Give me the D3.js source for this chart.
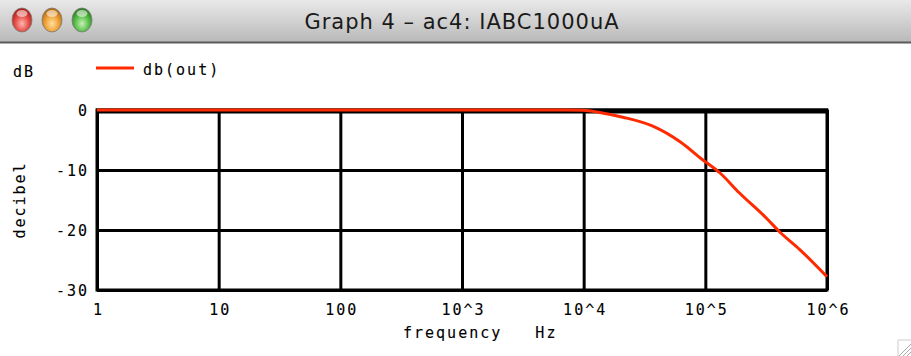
<!DOCTYPE html>
<html><head><meta charset="utf-8">
<script src="https://cdn.jsdelivr.net/npm/d3@7"></script>
<style>body{margin:0;background:#fff;} svg{display:block;}</style>
</head><body><svg id="c" width="911" height="356"></svg>
<script>
const freqHz = [1, 10, 100, 1000, 5000, 7000, 10000, 13500, 21000, 37000, 62000, 95000, 132000, 190000, 324000, 407000, 600000, 1000000];
const dbOut  = [0, 0, 0, 0, 0, 0, -0.05, -0.4, -1.2, -2.7, -5.3, -8.3, -10.5, -13.8, -18.2, -20.3, -23.3, -27.8];
const xTickValues = [1, 10, 100, 1e3, 1e4, 1e5, 1e6];
const xTickLabels = ["1", "10", "100", "10^3", "10^4", "10^5", "10^6"];
const yTickValues = [0, -10, -20, -30];
const yTickLabels = ["0", "-10", "-20", "-30"];
const seriesName = "db(out)";
const windowTitle = "Graph 4 \u2013 ac4: IABC1000uA";

const svg = d3.select("#c");
const mono = "'DejaVu Sans Mono', monospace";
const FS = 15, LS = "2px";
const defs = svg.append("defs");
const tg = defs.append("linearGradient").attr("id","tb").attr("x1",0).attr("y1",0).attr("x2",0).attr("y2",1);
tg.append("stop").attr("offset","0%").attr("stop-color","#e9e9e9");
tg.append("stop").attr("offset","100%").attr("stop-color","#b9b9b9");

// title bar
svg.append("rect").attr("x",0).attr("y",0).attr("width",911).attr("height",42).attr("fill","url(#tb)");
svg.append("line").attr("x1",0).attr("x2",911).attr("y1",42.5).attr("y2",42.5).attr("stroke","#5a5a5a").attr("stroke-width",2);
const btn = [["#e8504a","#b01d17","#ffb8b0"],["#f0a43a","#b86a10","#ffe0a0"],["#5cc24c","#2c8020","#c8f0b8"]];
btn.forEach((c,i)=>{
  const g = defs.append("radialGradient").attr("id","b"+i).attr("cx","50%").attr("cy","65%").attr("r","60%");
  g.append("stop").attr("offset","0%").attr("stop-color",c[2]);
  g.append("stop").attr("offset","55%").attr("stop-color",c[0]);
  g.append("stop").attr("offset","100%").attr("stop-color",c[1]);
  svg.append("ellipse").attr("cx",22+i*30).attr("cy",20).attr("rx",10).attr("ry",12)
    .attr("fill","url(#b"+i+")").attr("stroke","#777").attr("stroke-width",0.8);
  svg.append("ellipse").attr("cx",22+i*30).attr("cy",13.5).attr("rx",5.5).attr("ry",3.5).attr("fill","#fff").attr("opacity",0.55);
});
svg.append("text").attr("x",462).attr("y",29).attr("text-anchor","middle")
  .attr("font-family","'DejaVu Sans', sans-serif").attr("font-size",21).attr("letter-spacing","1px").attr("fill","#1a1a1a").text(windowTitle);

// scales
const x = d3.scaleLog().domain([1, 1e6]).range([97, 827]);
const y = d3.scaleLinear().domain([-30, 0]).range([290, 110]);

// grid via axes
const gx = svg.append("g").attr("transform","translate(0,290)")
  .call(d3.axisBottom(x).tickValues(xTickValues).tickSize(-180).tickFormat((d,i)=>xTickLabels[i]));
const gy = svg.append("g").attr("transform","translate(97,0)")
  .call(d3.axisLeft(y).tickValues(yTickValues).tickSize(-730).tickFormat((d,i)=>yTickLabels[i]));
[gx,gy].forEach(g=>{
  g.select(".domain").remove();
  g.selectAll(".tick line").attr("stroke","#000").attr("stroke-width",3);
  g.selectAll(".tick text").attr("font-family",mono).attr("font-size",FS).attr("letter-spacing",LS)
    .attr("fill","#000").attr("stroke","#000").attr("stroke-width",0.12);
});
gx.selectAll(".tick text").attr("y",14).attr("dy","0.71em").attr("dx","1px");
gy.selectAll(".tick text").attr("x",-8).attr("dy","0.35em");

// frame
svg.append("rect").attr("x",97).attr("y",110).attr("width",730).attr("height",180)
  .attr("fill","none").attr("stroke","#000").attr("stroke-width",3);
svg.append("line").attr("x1",96).attr("x2",828).attr("y1",111).attr("y2",111).attr("stroke","#000").attr("stroke-width",5);

// curve
const line = d3.line().x((d,i)=>x(freqHz[i])).y(d=>y(d)).curve(d3.curveMonotoneX);
svg.append("path").datum(dbOut).attr("d",line).attr("fill","none").attr("stroke","#ff2a00").attr("stroke-width",3);

function label(sel){ return sel.attr("font-family",mono).attr("font-size",FS).attr("letter-spacing",LS)
  .attr("fill","#000").attr("stroke","#000").attr("stroke-width",0.12); }
// legend
label(svg.append("text").attr("x",13).attr("y",77)).text("dB");
svg.append("line").attr("x1",96).attr("x2",134).attr("y1",68).attr("y2",68).attr("stroke","#ff2a00").attr("stroke-width",3);
label(svg.append("text").attr("x",143).attr("y",75)).text(seriesName);

// axis titles
label(svg.append("text").attr("transform","translate(25,200) rotate(-90)").attr("text-anchor","middle")).text("decibel");
label(svg.append("text").attr("x",403).attr("y",338).attr("xml:space","preserve")).text("frequency   Hz");

// resize grip
const grip = svg.append("g").attr("stroke","#aaa").attr("stroke-width",1);
[0,4,8].forEach(o=>grip.append("line").attr("x1",911-12+o).attr("y1",356).attr("x2",911).attr("y2",356-12+o));
svg.append("line").attr("x1",898).attr("y1",340).attr("x2",898).attr("y2",356).attr("stroke","#ccc");
svg.append("line").attr("x1",898).attr("y1",340).attr("x2",911).attr("y2",340).attr("stroke","#ccc");
</script></body></html>
